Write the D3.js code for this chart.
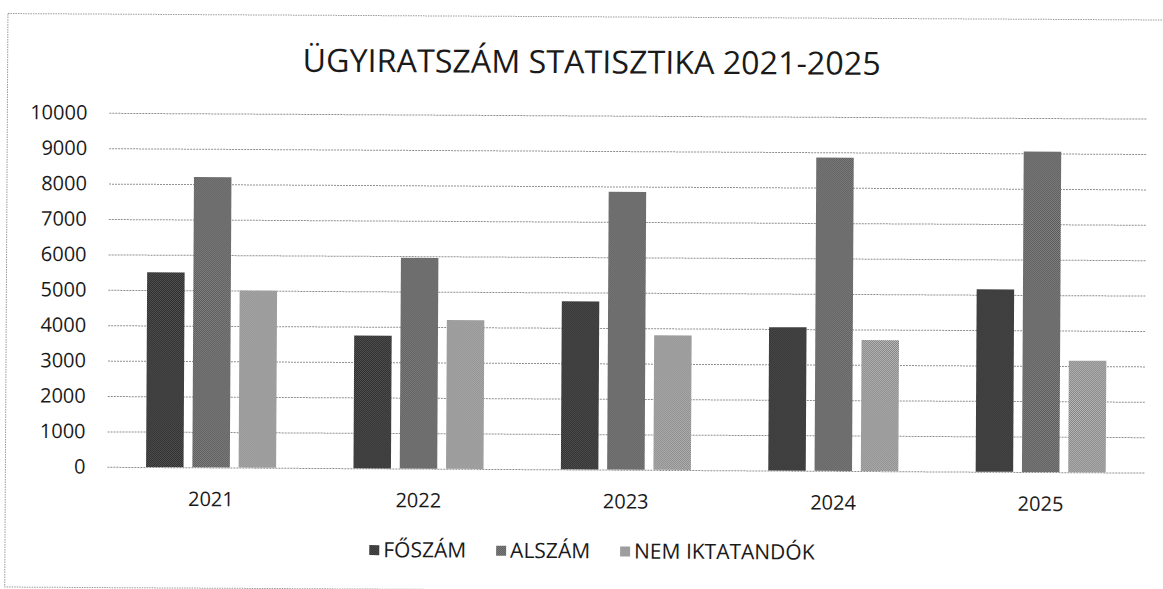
<!DOCTYPE html>
<html>
<head>
<meta charset="utf-8">
<script src="https://cdn.jsdelivr.net/npm/d3@7"></script>
<style>
  body { margin: 0; background: #fff; }
  text { font-family: "Open Sans", sans-serif; fill: #1a1a1a; }
</style>
</head>
<body>
<svg class="chart" width="1163" height="589"></svg>
<script>
// data
const years = ["2021", "2022", "2023", "2024", "2025"]
const seriesNames = ["FŐSZÁM", "ALSZÁM", "NEM IKTATANDÓK"]
const foszam = [5500, 3750, 4750, 4050, 5150]
const alszam = [8200, 5950, 7850, 8850, 9050]
const nemIktatando = [5000, 4200, 3800, 3700, 3150]
const yTicks = [0, 1000, 2000, 3000, 4000, 5000, 6000, 7000, 8000, 9000, 10000]
const title = "ÜGYIRATSZÁM STATISZTIKA 2021-2025"

const seriesValues = [foszam, alszam, nemIktatando]

const svg = d3.select("svg.chart")

// halftone-ish fills, the reference is a grey scan
const tones = [["#2a2a2a", "#555555"], ["#525252", "#8a8a8a"], ["#828282", "#b9b9b9"]]
const defs = svg.append("defs")
tones.forEach((t, i) => {
  const p = defs.append("pattern")
    .attr("id", "tone" + i)
    .attr("width", 2).attr("height", 2)
    .attr("patternUnits", "userSpaceOnUse")
  p.append("rect").attr("width", 2).attr("height", 2).attr("fill", t[0])
  p.append("rect").attr("width", 1).attr("height", 1).attr("fill", t[1])
  p.append("rect").attr("x", 1).attr("y", 1).attr("width", 1).attr("height", 1).attr("fill", t[1])
})

// the scan is turned a little
const g = svg.append("g").attr("transform", "rotate(0.32)")

// outer frame
g.append("rect")
  .attr("x", 8).attr("y", 13.5)
  .attr("width", 1165).attr("height", 573.5)
  .attr("fill", "none")
  .attr("stroke", "#9a9a9a")
  .attr("stroke-dasharray", "1.5,1")

const x0 = d3.scaleBand()
  .domain(years)
  .range([110, 1147])
  .paddingInner(0.373)
  .paddingOuter(0.1865)

const x1 = d3.scaleBand()
  .domain(d3.range(seriesNames.length))
  .range([0, x0.bandwidth()])
  .paddingInner(0.19)

const y = d3.scaleLinear()
  .domain([0, 10000])
  .range([466.2, 112.2])

// gridlines + y labels
const yAxis = g.append("g")
  .attr("transform", "translate(110,0)")
  .call(d3.axisLeft(y).tickValues(yTicks).tickSize(-1037).tickPadding(22).tickFormat(d3.format("d")))
yAxis.select(".domain").remove()
yAxis.selectAll(".tick line")
  .attr("stroke", "#8f8f8f")
  .attr("stroke-dasharray", "2,1")
yAxis.selectAll(".tick text")
  .style("font-size", "20px")
  .style("font-family", "'Open Sans', sans-serif")
  .attr("fill", "#1a1a1a")

// bars
const groups = g.selectAll("g.year")
  .data(years)
  .enter()
  .append("g")
  .attr("class", "year")
  .attr("transform", d => "translate(" + x0(d) + ",0)")

groups.selectAll("rect")
  .data((d, i) => seriesValues.map((s, k) => ({ k: k, v: s[i] })))
  .enter()
  .append("rect")
  .attr("x", d => x1(d.k))
  .attr("y", d => y(d.v))
  .attr("width", x1.bandwidth())
  .attr("height", d => y(0) - y(d.v))
  .attr("fill", d => "url(#tone" + d.k + ")")

// category labels
g.selectAll("text.cat")
  .data(years)
  .enter()
  .append("text")
  .attr("class", "cat")
  .attr("x", d => x0(d) + x0.bandwidth() / 2)
  .attr("y", 505)
  .attr("text-anchor", "middle")
  .style("font-size", "20px")
  .text(d => d)

// title
g.append("text")
  .attr("x", 592)
  .attr("y", 70)
  .attr("text-anchor", "middle")
  .attr("textLength", 578)
  .attr("lengthAdjust", "spacingAndGlyphs")
  .style("font-size", "32px")
  .attr("fill", "#222")
  .text(title)

// legend
const legend = g.append("g")
const items = legend.selectAll("g")
  .data(seriesNames)
  .enter()
  .append("g")
items.append("rect")
  .attr("width", 10).attr("height", 10)
  .attr("y", 543)
  .attr("fill", (d, i) => "url(#tone" + i + ")")
items.append("text")
  .attr("x", 14)
  .attr("y", 555)
  .style("font-size", "21px")
  .text(d => d)

let lx = 0
const gap = 30
items.each(function () {
  const w = 14 + this.querySelector("text").getComputedTextLength()
  d3.select(this).attr("transform", "translate(" + lx + ",0)")
  lx += w + gap
})
const legendWidth = lx - gap
legend.attr("transform", "translate(" + (595 - legendWidth / 2) + ",0)")
</script>
</body>
</html>
